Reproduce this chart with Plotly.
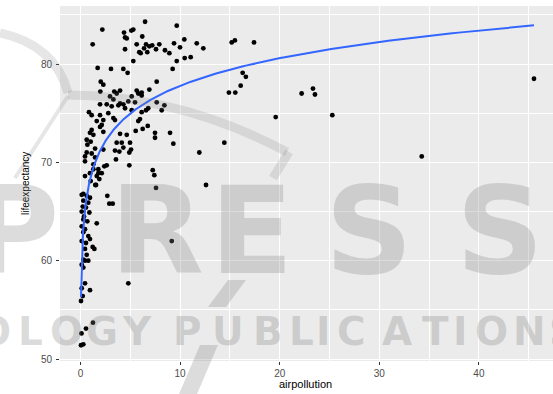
import numpy as np
import plotly.graph_objects as go

# ---------------- data ----------------
airpollution = [
    # upper cluster
    2.19, 6.48, 9.66, 1.22, 4.37, 5.10, 5.30, 4.64, 6.20, 4.47,
    5.64, 6.58, 6.91, 6.38, 7.91, 9.39, 10.42, 11.67, 12.33, 9.99,
    7.58, 8.48, 8.92, 6.04, 6.70, 10.46, 11.06, 9.66, 5.30, 1.72,
    3.06, 4.30, 4.73, 9.25, 15.18, 15.50, 17.42, 4.47, 7.20, 5.90,
    # middle band and right-hand points
    2.03, 2.29, 7.65, 6.91, 1.99, 3.39, 3.97, 5.64, 6.14, 16.28,
    16.60, 16.08, 14.90, 15.54, 22.20, 23.34, 23.54, 19.60, 25.28, 34.26,
    45.53, 14.44, 11.93, 12.60,
    # dense cluster 68-77
    2.96, 3.63, 5.80, 6.14, 3.30, 1.96, 2.63, 3.13, 3.80, 4.30,
    4.80, 5.47, 4.47, 5.14, 7.65, 8.42, 8.15, 6.58, 6.14, 0.85,
    1.12, 1.96, 2.79, 3.30, 2.29, 1.63, 3.46, 5.97, 5.80, 2.13,
    1.96, 2.29, 1.12, 0.95, 1.29, 3.97, 4.64, 5.54, 6.24, 6.75,
    7.48, 7.48, 8.99, 9.32, 0.62, 1.02, 3.63, 4.14, 4.97, 4.30,
    3.46, 3.90, 5.07, 4.90, 2.29, 1.46, 0.62, 1.12, 0.45, 0.45,
    1.46, 3.56, 4.90, 1.29, 1.29, 1.79, 2.39, 7.25, 0.95, 0.69,
    3.97, 5.14, 6.80, 2.63,
    # lower column near zero
    1.79, 2.13, 1.63, 1.89, 0.45, 1.56, 7.41, 7.58, 0.12, 0.62,
    0.95, 2.69, 2.89, 3.23, 0.28, 0.78, 0.22, 0.55, 0.12, 0.89,
    0.35, 0.28, 0.68, 1.63, 0.12, 0.45, 0.28, 0.78, 0.95, 0.12,
    0.55, 1.22, 1.39, 0.45, 0.62, 0.28, 0.78, 9.16, 1.02, 1.48,
    0.28,
    # bottom
    0.45, 0.12, 0.28, 0.45, 0.12, 0.95, 4.80, 0.22, 0.05, 1.25,
    0.55, 0.10, 0.28, 0.05,
]

lifeexpectancy = [
    # upper cluster
    83.5, 84.3, 83.9, 82.0, 83.2, 83.4, 83.5, 82.6, 82.8, 81.5,
    82.0, 82.0, 81.8, 81.6, 82.0, 82.1, 82.5, 82.1, 81.6, 81.7,
    81.5, 81.4, 81.1, 81.1, 81.2, 80.6, 80.7, 80.3, 80.3, 79.6,
    79.5, 79.5, 79.1, 79.5, 82.2, 82.4, 82.2, 82.7, 81.9, 81.2,
    # middle band and right-hand points
    78.2, 77.9, 78.2, 77.4, 77.2, 77.2, 77.3, 77.3, 77.1, 79.1,
    78.7, 77.8, 77.1, 77.1, 77.0, 77.5, 76.9, 74.6, 74.8, 70.6,
    78.5, 72.0, 71.0, 67.7,
    # dense cluster 68-77
    76.7, 77.0, 77.0, 76.8, 76.4, 75.9, 75.9, 75.7, 75.8, 75.9,
    76.2, 76.1, 75.5, 75.3, 76.1, 75.8, 75.3, 75.3, 75.1, 75.1,
    74.8, 74.8, 75.0, 74.5, 74.3, 74.2, 74.3, 74.4, 74.2, 73.8,
    73.6, 73.1, 73.3, 73.0, 72.8, 72.9, 72.8, 73.2, 73.4, 73.7,
    73.0, 72.5, 73.0, 71.9, 72.3, 72.1, 72.0, 72.0, 72.0, 71.5,
    71.2, 71.1, 71.3, 71.0, 71.3, 71.4, 71.0, 70.9, 70.6, 70.1,
    70.5, 70.3, 69.7, 69.8, 69.3, 69.3, 69.6, 69.2, 68.9, 71.8,
    76.0, 76.7, 75.5, 69.7,
    # lower column near zero
    68.9, 68.9, 68.6, 68.3, 68.6, 67.7, 68.7, 67.4, 66.7, 66.6,
    66.4, 66.6, 65.8, 65.8, 66.1, 65.9, 65.5, 65.4, 65.0, 64.9,
    64.5, 64.2, 64.0, 63.8, 63.5, 63.2, 62.9, 62.5, 62.2, 62.0,
    61.8, 61.4, 61.2, 61.2, 60.6, 60.1, 60.0, 62.0, 68.1, 67.7,
    66.8,
    # bottom
    60.0, 59.6, 59.3, 57.7, 57.2, 57.0, 57.7, 56.4, 55.9, 53.7,
    53.1, 52.6, 51.5, 51.4,
]

x_ticks = [0, 10, 20, 30, 40]
y_ticks = [50, 60, 70, 80]

# ---------------- smoother: y ~ log(x) linear model ----------------
xa = np.array(airpollution, dtype=float)
ya = np.array(lifeexpectancy, dtype=float)
slope, intercept = np.polyfit(np.log(xa), ya, 1)
xs = np.geomspace(xa.min(), xa.max(), 300)
ys = intercept + slope * np.log(xs)

# ---------------- layout geometry (pixels of the 553x394 page) ----------------
W, H = 553, 394
PL, PR, PT, PB = 60, 553, 6, 361


def px_x(p):
    return (p - PL) / (PR - PL)


def px_y(p):
    return (PB - p) / (PB - PT)


fig = go.Figure()
fig.add_trace(go.Scatter(
    x=airpollution, y=lifeexpectancy, mode="markers",
    marker=dict(color="black", size=4.8, line=dict(width=0)),
    showlegend=False, hoverinfo="x+y",
))
fig.add_trace(go.Scatter(
    x=xs, y=ys, mode="lines",
    line=dict(color="#3366FF", width=2),
    showlegend=False, hoverinfo="skip",
))

axis_common = dict(
    showgrid=True, gridcolor="white", gridwidth=1.1,
    zeroline=False, showline=False,
    ticks="outside", ticklen=3, tickwidth=1, tickcolor="#333333",
    tickfont=dict(family="Liberation Sans, Arial, sans-serif", size=10, color="#4D4D4D"),
    minor=dict(showgrid=True, gridcolor="white", gridwidth=0.5, ticks=""),
)

fig.update_xaxes(range=[-2.06, 47.44], tickmode="array", tickvals=x_ticks,
                 minor_tickvals=[-5, 5, 15, 25, 35, 45], ticklabelstandoff=0,
                 **axis_common)
fig.update_yaxes(range=[49.8, 85.9], tickmode="array", tickvals=y_ticks,
                 minor_tickvals=[55, 65, 75, 85], ticklabelstandoff=2,
                 **axis_common)

annotations = [
    dict(text="airpollution", x=px_x(305), y=px_y(384), xref="paper", yref="paper",
         showarrow=False, xanchor="center", yanchor="middle",
         font=dict(family="Liberation Sans, Arial, sans-serif", size=11, color="black")),
    dict(text="lifeexpectancy", x=px_x(25), y=px_y(184), xref="paper", yref="paper",
         showarrow=False, xanchor="center", yanchor="middle", textangle=-90,
         font=dict(family="Liberation Sans, Arial, sans-serif", size=10, color="black")),
]

# ---------------- publisher watermark (semi-transparent, drawn on top) ----------------
wm_color = "rgba(128,128,128,0.28)"
big_letters = ["P", "R", "E", "S", "S"]
big_centers = [14, 157, 251, 369, 500]
for ch, cx in zip(big_letters, big_centers):
    annotations.append(dict(
        text=ch, x=px_x(cx), y=px_y(231), xref="paper", yref="paper",
        showarrow=False, xanchor="center", yanchor="middle",
        font=dict(family="DejaVu Sans", size=122, color=wm_color, weight="bold")))

small_letters = list("OLOGY") + list("PUBLICATIONS")
small_centers = [-6, 30, 66, 102, 137,
                 187, 228, 268, 301, 323, 351, 397, 435, 460, 491, 529, 563]
for ch, cx in zip(small_letters, small_centers):
    annotations.append(dict(
        text=ch, x=px_x(cx), y=px_y(331), xref="paper", yref="paper",
        showarrow=False, xanchor="center", yanchor="middle",
        font=dict(family="DejaVu Sans", size=39, color=wm_color, weight="bold")))


def path_from(points, close=False):
    parts = []
    for i, (px, py) in enumerate(points):
        parts.append(("M" if i == 0 else "L") + f"{px_x(px):.4f},{px_y(py):.4f}")
    return " ".join(parts) + (" Z" if close else "")


def qpath(p0, c, p1):
    return (f"M{px_x(p0[0]):.4f},{px_y(p0[1]):.4f} "
            f"Q{px_x(c[0]):.4f},{px_y(c[1]):.4f} {px_x(p1[0]):.4f},{px_y(p1[1]):.4f}")


swoosh = "rgba(128,128,128,0.20)"
shapes = [
    dict(type="path", xref="paper", yref="paper", layer="above",
         path=qpath((0, 33), (55, 45), (68, 93)),
         line=dict(color=swoosh, width=9)),
    dict(type="path", xref="paper", yref="paper", layer="above",
         path=qpath((68, 95), (180, 95), (287, 152)),
         line=dict(color=swoosh, width=9)),
    dict(type="path", xref="paper", yref="paper", layer="above",
         path=path_from([(289, 152), (273, 178)]),
         line=dict(color=swoosh, width=9)),
    dict(type="path", xref="paper", yref="paper", layer="above",
         path=path_from([(68, 96), (15, 178)]),
         line=dict(color=swoosh, width=4)),
    dict(type="path", xref="paper", yref="paper", layer="above",
         path=path_from([(228, 280), (246, 280), (226, 307), (208, 307)], close=True),
         fillcolor=wm_color, line=dict(width=0)),
    dict(type="path", xref="paper", yref="paper", layer="above",
         path=path_from([(200, 345), (218, 345), (197, 394), (179, 394)], close=True),
         fillcolor=wm_color, line=dict(width=0)),
]

fig.update_layout(
    width=W, height=H,
    margin=dict(l=PL, r=W - PR, t=PT, b=H - PB, pad=0),
    plot_bgcolor="#EBEBEB", paper_bgcolor="white",
    annotations=annotations, shapes=shapes,
    showlegend=False,
)

fig.write_html("out.html")
